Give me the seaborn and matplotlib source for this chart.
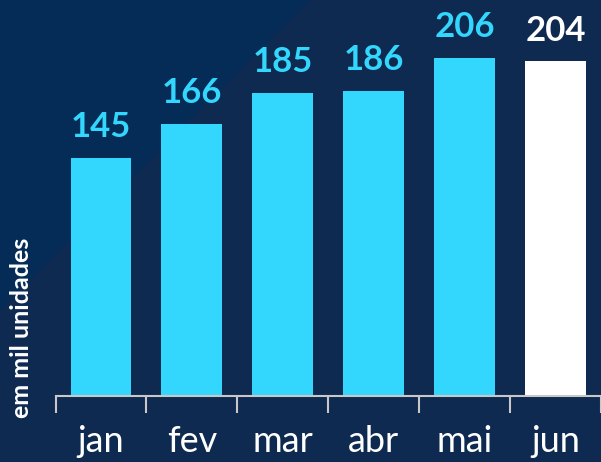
import matplotlib.pyplot as plt
import matplotlib.patches as mpatches
import seaborn as sns
import pandas as pd

meses = ['jan', 'fev', 'mar', 'abr', 'mai', 'jun']
vendas = [145, 166, 185, 186, 206, 204]
cores = ['#33d7fd', '#33d7fd', '#33d7fd', '#33d7fd', '#33d7fd', '#ffffff']

fundo = '#0e2a50'
fundo_claro = '#042c56'

sns.set_theme(style='white')
plt.rcParams['font.family'] = ['Lato', 'DejaVu Sans']

df = pd.DataFrame({'mes': meses, 'vendas': vendas})

fig = plt.figure(figsize=(6.01, 4.62), dpi=100, facecolor=fundo)

# fundo com faixa diagonal no canto superior esquerdo
bg = fig.add_axes([0, 0, 1, 1], zorder=-1)
bg.set_xlim(0, 1)
bg.set_ylim(0, 1)
bg.axis('off')
bg.add_patch(mpatches.Polygon([(0, 1 - 310 / 462), (310 / 601, 1), (0, 1)],
                              closed=True, facecolor=fundo_claro, edgecolor='none'))

ax = fig.add_axes([55.5 / 601, 66 / 462, 1 - 55.5 / 601, 396 / 462])
ax.set_facecolor('none')
sns.barplot(data=df, x='mes', y='vendas', hue='mes', palette=cores,
            width=0.67, legend=False, ax=ax, saturation=1, linewidth=0)

for i, v in enumerate(vendas):
    ax.annotate(str(v), (i, v), xytext=(0, 15), textcoords='offset points',
                ha='center', va='baseline', fontsize=25, fontweight='bold',
                color=cores[i])

ax.set_xlim(-0.5, 5.5)
ax.set_ylim(0, 241.5)
ax.set_xlabel('')
ax.set_ylabel('')
ax.set_yticks([])
for s in ['top', 'right', 'left']:
    ax.spines[s].set_visible(False)
ax.spines['bottom'].set_color('#c8c8c8')
ax.spines['bottom'].set_linewidth(1.5)

ax.set_xticks(range(len(meses)))
ax.set_xticklabels(meses, fontsize=26, color='white')
ax.tick_params(axis='x', which='major', length=0, pad=21)
ax.set_xticks([i - 0.5 for i in range(len(meses) + 1)], minor=True)
ax.tick_params(axis='x', which='minor', length=12, width=1.5, color='#c8c8c8',
               direction='out', bottom=True)

fig.text(22 / 601, 1 - 418 / 462, 'em mil unidades', rotation=90,
         ha='center', va='bottom', fontsize=18, fontweight='bold', color='white')

fig.savefig('out.png', dpi=100, facecolor=fundo)
